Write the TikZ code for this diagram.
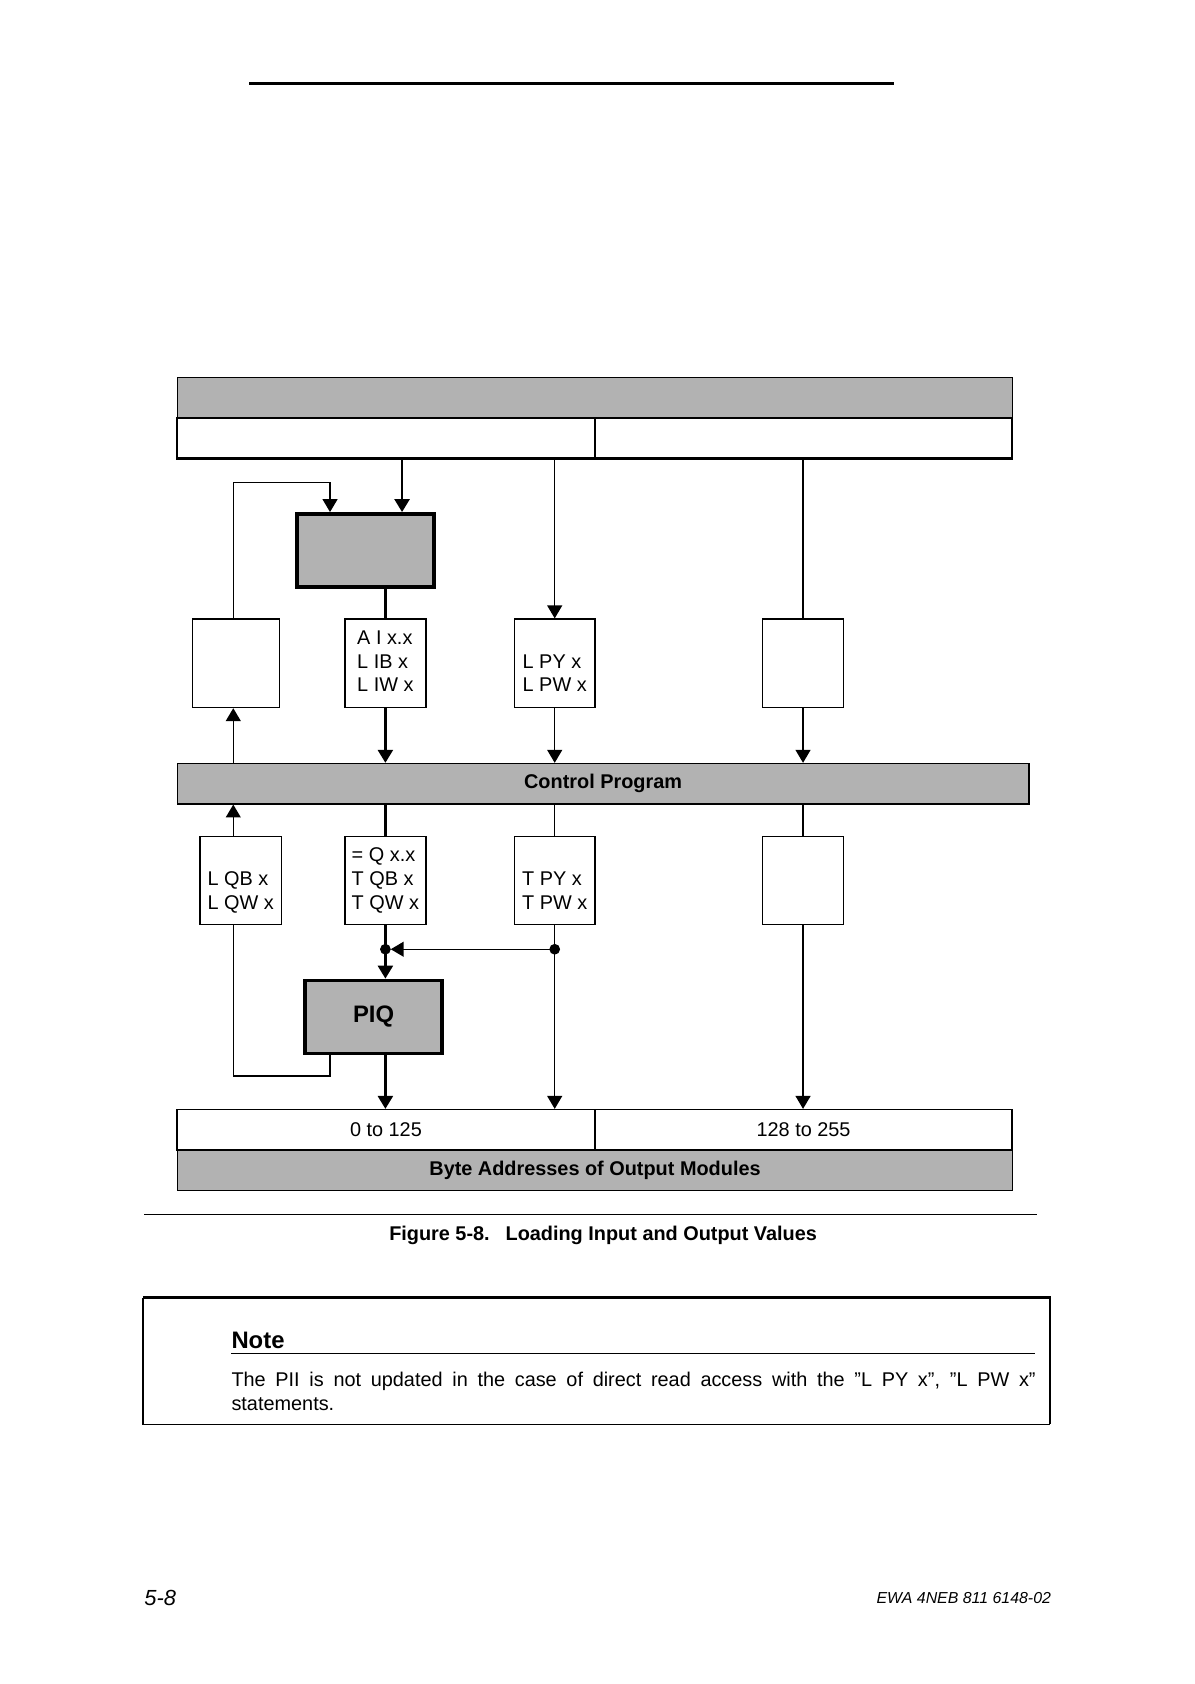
\documentclass[tikz,border=0pt]{standalone}
\usepackage{fontspec}
\setmainfont{Liberation Sans}
\usetikzlibrary{arrows.meta,positioning}

\begin{document}
\begin{tikzpicture}[x=0.541pt,y=-0.541pt,
  every node/.style={font=\fontsize{10}{12}\selectfont},
  lnthin/.style={line width=0.7pt},
  lnthick/.style={line width=1.3pt},
  arrowed/.style={-{Triangle[length=6.5pt,width=7.5pt]}},
  band/.style={draw,line width=0.7pt,fill=black!30,inner sep=0pt,minimum height=20.3pt,font=\fontsize{10}{12}\selectfont\bfseries},
  cell/.style={draw,line width=0.8pt,inner sep=0pt,minimum width=210pt,minimum height=20.3pt},
  op/.style={draw,line width=0.8pt,inner sep=0pt,minimum width=40.6pt,minimum height=44.4pt,align=left},
  procimg/.style={draw,line width=1.8pt,fill=black!30,inner sep=0pt,minimum width=69pt,minimum height=36.8pt,font=\fontsize{12}{14}\selectfont\bfseries},
  junct/.style={circle,fill,inner sep=0pt,minimum size=5.4pt}]
  \useasboundingbox (0,0) rectangle (1110.7,1566.5);
  \draw[line width=1.4pt] (232,78) -- (832,78);

  % input side
  \node[band,minimum width=420.4pt] (ibar) at (553.5,370) {};
  \node[cell] (irowl) at (359,407.5) {};
  \node[cell] (irowr) at (747.5,407.5) {};
  \draw[lnthick] (irowl.south west) -- (irowr.south east);

  \node[procimg] (pii) at (340,512) {};
  \node[op,minimum width=43.8pt] (pib) at (219.5,617) {};
  \node[op] (ldi) at (358.5,617) {\strut A I x.x\\L IB x\\L IW x\strut};
  \node[op] (lpy) at (516,617) {\strut\\L PY x\\L PW x\strut};
  \node[op] (ipe) at (747,617) {};

  \node[band,minimum width=428.5pt] (cprog) at (561,729) {Control Program};

  % output side
  \node[op,minimum width=41.1pt] (lqb) at (224,819) {\strut\\L QB x\\L QW x\strut};
  \node[op] (tqb) at (358.5,819) {\strut= Q x.x\\T QB x\\T QW x\strut};
  \node[op] (tpy) at (516,819) {\strut\\T PY x\\T PW x\strut};
  \node[op] (ope) at (747,819) {};

  \node[procimg] (piq) at (347.5,946) {PIQ};

  \node[cell] (orowl) at (359,1051) {0 to 125};
  \node[cell] (orowr) at (747.5,1051) {128 to 255};
  \node[band,minimum width=420.4pt] (obar) at (553.5,1088.5) {Byte Addresses of Output Modules};

  \coordinate (jq) at (358.5,883);
  \coordinate (jp) at (516,883);

  \draw[lnthick,arrowed] (irowl.south -| 374,0) -- (pii.north -| 374,0);
  \draw[lnthin,arrowed] (pib.north -| 217,0) |- (307,449) -- (pii.north -| 307,0);
  \draw[lnthin,arrowed] (irowl.south -| lpy.north) -- (lpy.north);
  \draw[lnthin] (irowr.south -| ipe.north) -- (ipe.north);
  \draw[lnthick] (pii.south -| ldi.north) -- (ldi.north);
  \draw[lnthick,arrowed] (ldi.south) -- (cprog.north -| ldi.south);
  \draw[lnthin,arrowed] (lpy.south) -- (cprog.north -| lpy.south);
  \draw[lnthin,arrowed] (ipe.south) -- (cprog.north -| ipe.south);
  \draw[lnthin,arrowed] (cprog.north -| 217,0) -- (pib.south -| 217,0);
  \draw[lnthin,arrowed] (lqb.north -| 217,0) -- (cprog.south -| 217,0);
  \draw[lnthick] (cprog.south -| tqb.north) -- (tqb.north);
  \draw[lnthin] (cprog.south -| tpy.north) -- (tpy.north);
  \draw[lnthin] (cprog.south -| ope.north) -- (ope.north);
  \draw[lnthick] (tqb.south) -- (jq);
  \draw[lnthick,arrowed] (jq) -- (piq.north -| jq);
  \draw[lnthin,arrowed] (tpy.south) -- (orowl.north -| tpy.south);
  \draw[lnthin,arrowed,shorten >=2.7pt] (jp) -- (jq);
  \node[junct] at (jq) {};
  \node[junct] at (jp) {};
  \draw[lnthick,arrowed] (piq.south -| jq) -- (orowl.north -| jq);
  \draw[lnthin] (piq.south -| 307,0) |- (217,1001) -- (lqb.south -| 217,0);
  \draw[lnthin,arrowed] (ope.south) -- (orowr.north -| ope.south);

  % caption and note
  \draw[lnthin] (134,1130) -- (965,1130);
  \node[font=\fontsize{10}{12}\selectfont\bfseries] (cap) at (561,1149) {Figure 5-8.\hspace{0.8em}Loading Input and Output Values};
  \draw[line width=1.2pt] (133,1207) -- (977,1207) -- (977,1325);
  \draw[lnthin] (133,1207) -- (133,1325) -- (977,1325);
  \node[anchor=base west,inner sep=0pt,font=\fontsize{12}{14}\selectfont\bfseries] (notehd) at (215,1254) {Note};
  \draw[lnthin] (215,1259) -- (963,1259);
  \node[anchor=north west,inner sep=0pt,text width=404.7pt,align=justify] (notetx) at (215,1276) {The PII is not updated in the case of direct read access with the ”L PY x”,\enspace ”L PW x”\linebreak statements.};

  \node[anchor=base west,inner sep=0pt,font=\fontsize{11}{13}\selectfont\itshape] (pgno) at (134,1493) {5-8};
  \node[anchor=base east,inner sep=0pt,font=\fontsize{8}{10}\selectfont\itshape] (docno) at (978,1492) {EWA 4NEB 811 6148-02};
\end{tikzpicture}
\end{document}
